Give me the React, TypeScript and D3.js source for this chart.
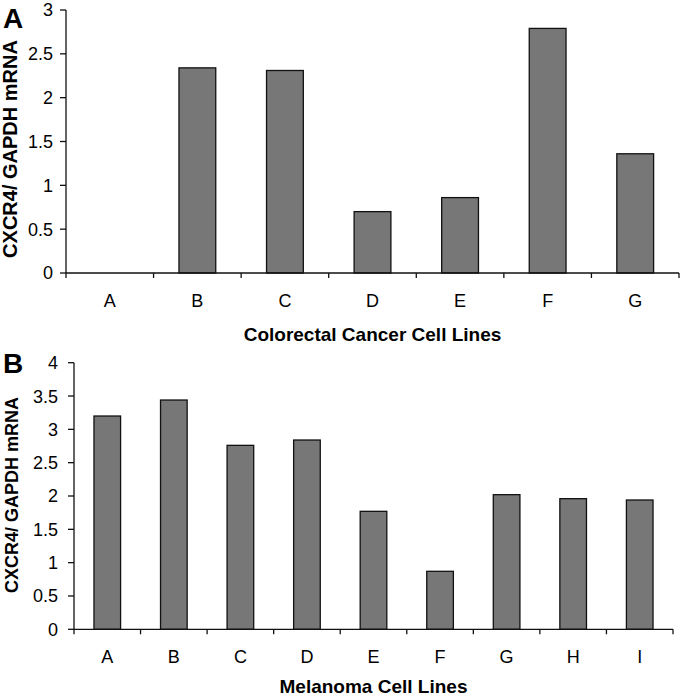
import React from "react";
import * as d3 from "d3";

const catsA = ["A", "B", "C", "D", "E", "F", "G"];
const valsA = [0, 2.34, 2.31, 0.7, 0.86, 2.79, 1.36];
const ticksA = [0, 0.5, 1, 1.5, 2, 2.5, 3];

const catsB = ["A", "B", "C", "D", "E", "F", "G", "H", "I"];
const valsB = [3.2, 3.44, 2.76, 2.84, 1.77, 0.87, 2.02, 1.96, 1.94];
const ticksB = [0, 0.5, 1, 1.5, 2, 2.5, 3, 3.5, 4];

const FONT = "Liberation Sans, Arial, sans-serif";

type PanelProps = {
  cats: string[];
  vals: number[];
  ticks: number[];
  yMax: number;
  x0: number;
  x1: number;
  yTop: number;
  yBot: number;
  barFrac: number;
  letter: string;
  letterY: number;
  title: string;
  titleY: number;
  labelY: number;
  yTitleX: number;
  yTitleY: number;
  yTitleSize: number;
  tickGap: number;
};

function Panel(p: PanelProps) {
  const x = d3.scaleBand<string>().domain(p.cats).range([p.x0, p.x1]).paddingInner(0).paddingOuter(0);
  const y = d3.scaleLinear().domain([0, p.yMax]).range([p.yBot, p.yTop]);
  const bw = x.bandwidth() * p.barFrac;
  const boundaries = d3.range(p.cats.length + 1).map((i) => p.x0 + i * x.bandwidth());
  return (
    <g>
      <text x={3} y={p.letterY} fontFamily={FONT} fontWeight="bold" fontSize={28}>
        {p.letter}
      </text>
      <text
        transform={`translate(${p.yTitleX},${p.yTitleY}) rotate(-90)`}
        textAnchor="middle"
        fontFamily={FONT}
        fontWeight="bold"
        fontSize={p.yTitleSize}
      >
        CXCR4/ GAPDH mRNA
      </text>
      {p.cats.map((c, i) => (
        <rect
          key={c}
          x={(x(c) as number) + (x.bandwidth() - bw) / 2}
          y={y(p.vals[i])}
          width={bw}
          height={p.yBot - y(p.vals[i])}
          fill="#777777"
          stroke="#111"
          strokeWidth={1.3}
        />
      ))}
      <line x1={p.x0} x2={p.x0} y1={p.yTop} y2={p.yBot} stroke="#111" strokeWidth={1.3} />
      {p.ticks.map((t) => (
        <g key={t}>
          <line x1={p.x0 - 6} x2={p.x0} y1={y(t)} y2={y(t)} stroke="#111" strokeWidth={1.3} />
          <text
            x={p.x0 - p.tickGap}
            y={y(t)}
            dy="0.36em"
            textAnchor="end"
            fontFamily={FONT}
            fontSize={18}
          >
            {t}
          </text>
        </g>
      ))}
      <line x1={p.x0} x2={p.x1} y1={p.yBot} y2={p.yBot} stroke="#111" strokeWidth={1.3} />
      {boundaries.map((bx, i) => (
        <line key={i} x1={bx} x2={bx} y1={p.yBot} y2={p.yBot + 5} stroke="#111" strokeWidth={1.3} />
      ))}
      {p.cats.map((c) => (
        <text
          key={c}
          x={(x(c) as number) + x.bandwidth() / 2}
          y={p.labelY}
          textAnchor="middle"
          fontFamily={FONT}
          fontSize={18}
        >
          {c}
        </text>
      ))}
      <text
        x={(p.x0 + p.x1) / 2}
        y={p.titleY}
        textAnchor="middle"
        fontFamily={FONT}
        fontWeight="bold"
        fontSize={19}
      >
        {p.title}
      </text>
    </g>
  );
}

export default function App() {
  return (
    <svg
      width={680}
      height={697}
      style={{ position: "absolute", left: 0, top: 0, background: "#fff" }}
    >
      <rect width={680} height={697} fill="#fff" />
      <Panel
        cats={catsA}
        vals={valsA}
        ticks={ticksA}
        yMax={3}
        x0={66}
        x1={679}
        yTop={10}
        yBot={273}
        barFrac={0.42}
        letter="A"
        letterY={28}
        title="Colorectal Cancer Cell Lines"
        titleY={341}
        labelY={307}
        yTitleX={17}
        yTitleY={149}
        yTitleSize={20}
        tickGap={13}
      />
      <Panel
        cats={catsB}
        vals={valsB}
        ticks={ticksB}
        yMax={4}
        x0={74}
        x1={673}
        yTop={362.7}
        yBot={629.3}
        barFrac={0.4}
        letter="B"
        letterY={373}
        title="Melanoma Cell Lines"
        titleY={693}
        labelY={663}
        yTitleX={18}
        yTitleY={495}
        yTitleSize={18}
        tickGap={16}
      />
    </svg>
  );
}
